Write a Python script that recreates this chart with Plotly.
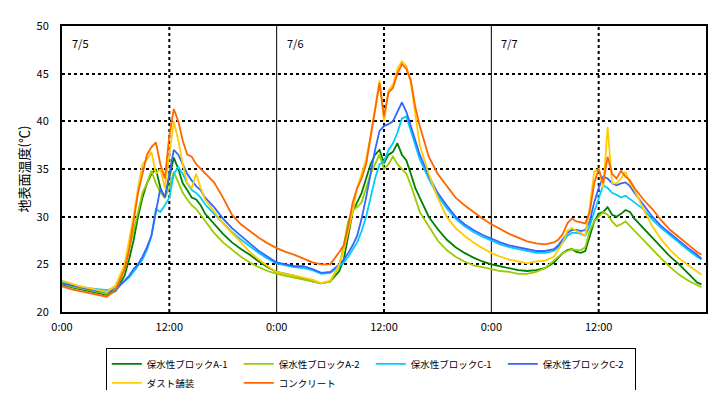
import plotly.graph_objects as go

# time in hours since 7/5 0:00
hours = ([0, 1, 2, 3, 4, 5, 6, 7]
         + [7.5, 8, 8.5, 9, 9.5, 10, 10.5, 11, 11.5, 12, 12.5, 13, 13.5, 14, 14.5, 15, 15.5, 16]
         + list(range(17, 32))
         + [31.5, 32, 32.5, 33, 33.5, 34, 34.5, 35, 35.5, 36, 36.5, 37, 37.5, 38, 38.5, 39, 39.5, 40]
         + list(range(41, 56))
         + [55.5, 56, 56.5, 57, 57.5, 58, 58.5, 59, 59.5, 60, 60.5, 61, 61.5, 62, 62.5, 63, 63.5, 64]
         + [65, 66, 67, 68, 69, 70, 71, 71.5])

concrete = ([22.7, 22.4, 22.2, 22.0, 21.8, 21.6, 22.3, 24.5]
            + [26.5, 29.5, 32.5, 34.5, 36.5, 37.3, 37.8, 35.5, 34.0, 38.5, 41.3, 40.0, 38.0, 36.5, 36.3, 35.5, 35.0, 34.5]
            + [33.6, 32.0, 30.2, 29.2, 28.5, 27.8, 27.2, 26.7, 26.3, 26.0, 25.6, 25.2, 25.0, 25.0, 26.3]
            + [27.0, 29.0, 31.5, 33.0, 34.0, 35.5, 38.5, 41.5, 44.0, 40.5, 43.0, 43.5, 45.0, 46.0, 45.5, 44.3, 41.5, 39.5]
            + [36.3, 34.5, 33.2, 32.0, 31.2, 30.5, 29.8, 29.2, 28.7, 28.2, 27.8, 27.4, 27.2, 27.1, 27.3]
            + [27.6, 28.2, 29.3, 29.8, 29.5, 29.4, 29.3, 30.5, 33.5, 35.0, 33.5, 36.3, 34.5, 34.0, 34.8, 34.2, 33.8, 33.0]
            + [31.8, 30.8, 29.6, 28.6, 27.8, 27.0, 26.3, 26.0])

dust = ([23.3, 23.0, 22.7, 22.5, 22.3, 22.1, 22.8, 25.0]
        + [27.5, 30.0, 33.0, 35.5, 36.0, 36.8, 34.5, 35.0, 33.0, 36.5, 40.0, 38.0, 35.5, 33.5, 33.0, 34.5, 33.0, 31.8]
        + [30.5, 29.3, 28.3, 27.3, 26.3, 25.5, 24.8, 24.2, 24.0, 23.8, 23.6, 23.4, 23.0, 23.3, 25.0]
        + [26.5, 28.5, 30.5, 33.0, 34.5, 36.0, 38.5, 41.5, 44.3, 40.0, 43.3, 43.8, 45.5, 46.3, 45.8, 44.0, 41.0, 37.5]
        + [34.5, 32.0, 30.0, 28.8, 28.0, 27.3, 26.7, 26.2, 25.8, 25.5, 25.3, 25.1, 25.3, 25.4, 25.8]
        + [26.5, 27.3, 28.5, 28.8, 28.5, 28.3, 28.0, 31.0, 34.7, 35.0, 33.0, 39.4, 33.5, 33.5, 34.0, 34.7, 33.5, 32.8]
        + [30.8, 29.0, 27.6, 26.5, 25.6, 24.9, 24.2, 23.9])

blockC2 = ([23.0, 22.8, 22.6, 22.4, 22.2, 22.1, 22.3, 23.3]
           + [23.8, 24.5, 25.0, 25.8, 26.8, 28.0, 30.5, 33.0, 32.0, 34.5, 37.0, 36.5, 35.5, 34.5, 33.8, 33.2, 32.8, 32.0]
           + [31.0, 29.8, 28.8, 28.0, 27.2, 26.4, 25.8, 25.2, 25.0, 24.8, 24.8, 24.5, 24.1, 24.2, 25.0]
           + [25.5, 26.2, 27.0, 28.0, 29.8, 32.0, 34.5, 37.0, 39.0, 39.5, 39.7, 40.0, 41.0, 42.0, 41.0, 39.5, 38.0, 36.5]
           + [34.3, 32.5, 31.2, 30.0, 29.2, 28.6, 28.1, 27.7, 27.3, 27.0, 26.8, 26.6, 26.4, 26.4, 26.6]
           + [27.0, 27.6, 28.3, 28.6, 28.6, 28.5, 28.6, 29.5, 31.5, 33.0, 34.2, 34.0, 33.5, 33.3, 33.5, 33.6, 33.2, 32.5]
           + [31.2, 30.0, 29.0, 28.2, 27.4, 26.7, 26.0, 25.6])

blockC1 = ([23.2, 22.9, 22.7, 22.5, 22.4, 22.3, 22.5, 23.2]
           + [23.6, 24.2, 24.8, 25.5, 26.5, 28.0, 30.8, 30.5, 31.2, 32.0, 34.5, 35.2, 34.5, 33.5, 32.8, 32.5, 32.0, 31.3]
           + [30.3, 29.3, 28.4, 27.6, 26.9, 26.2, 25.6, 25.1, 24.9, 24.7, 24.6, 24.4, 24.0, 24.1, 24.8]
           + [25.2, 25.8, 26.5, 27.3, 28.5, 30.0, 32.0, 34.0, 35.5, 35.8, 37.0, 37.7, 38.8, 40.3, 40.5, 39.0, 37.5, 36.0]
           + [34.0, 32.2, 30.9, 29.8, 29.0, 28.4, 27.9, 27.5, 27.1, 26.8, 26.6, 26.4, 26.2, 26.2, 26.4]
           + [26.8, 27.3, 28.0, 28.3, 28.3, 28.2, 28.0, 29.0, 30.5, 32.0, 33.3, 33.0, 32.5, 32.3, 32.0, 32.2, 31.8, 31.5]
           + [30.8, 29.7, 28.8, 28.0, 27.2, 26.5, 25.8, 25.5])

blockA1 = ([22.9, 22.6, 22.4, 22.2, 22.0, 21.8, 22.2, 23.8]
           + [25.5, 27.5, 30.0, 32.0, 33.5, 34.5, 35.0, 33.0, 32.0, 34.0, 36.2, 35.0, 33.5, 32.8, 32.0, 31.8, 31.2, 30.3]
           + [29.2, 28.2, 27.3, 26.6, 26.0, 25.3, 24.7, 24.2, 24.0, 23.8, 23.5, 23.2, 23.0, 23.2, 24.3]
           + [25.5, 28.0, 30.5, 31.5, 32.5, 34.0, 35.5, 36.5, 37.0, 35.6, 36.5, 36.8, 37.7, 36.5, 35.9, 34.5, 33.0, 32.0]
           + [30.0, 28.7, 27.6, 26.8, 26.2, 25.7, 25.3, 25.0, 24.8, 24.6, 24.4, 24.3, 24.4, 24.6, 25.2]
           + [25.7, 26.2, 26.5, 26.6, 26.3, 26.2, 26.4, 28.0, 29.5, 30.3, 30.5, 31.0, 30.2, 30.0, 30.3, 30.7, 30.5, 29.8]
           + [28.8, 27.9, 26.9, 25.8, 25.0, 24.0, 23.1, 22.9])

blockA2 = ([23.0, 22.7, 22.5, 22.3, 22.1, 21.9, 22.5, 24.5]
           + [26.5, 28.5, 30.5, 32.5, 33.5, 34.8, 33.5, 32.5, 32.0, 33.0, 34.7, 33.5, 32.5, 31.8, 31.2, 30.8, 30.2, 29.5]
           + [28.3, 27.3, 26.5, 25.8, 25.2, 24.7, 24.3, 24.0, 23.8, 23.6, 23.4, 23.2, 23.0, 23.2, 24.8]
           + [27.0, 29.5, 30.7, 31.0, 31.5, 33.0, 34.5, 35.5, 36.5, 35.0, 35.5, 36.3, 35.5, 35.0, 34.5, 33.3, 31.8, 30.5]
           + [29.0, 27.5, 26.5, 25.8, 25.3, 24.9, 24.7, 24.5, 24.3, 24.2, 24.0, 24.0, 24.2, 24.6, 25.4]
           + [25.8, 26.2, 26.4, 26.6, 26.5, 26.5, 26.8, 28.5, 29.5, 30.0, 30.5, 30.2, 29.5, 29.0, 29.2, 29.5, 29.0, 28.5]
           + [27.6, 26.6, 25.6, 24.7, 23.9, 23.3, 22.8, 22.6])

series_names = ["保水性ブロックA-1", "保水性ブロックA-2", "保水性ブロックC-1",
                "保水性ブロックC-2", "ダスト舗装", "コンクリート"]
series_values = [blockA1, blockA2, blockC1, blockC2, dust, concrete]
series_colors = ["#008000", "#99CC00", "#00CCFF", "#3366FF", "#FFCC00", "#FF6600"]

x_tick_vals = [0, 12, 24, 36, 48, 60]
x_tick_text = ["0:00", "12:00", "0:00", "12:00", "0:00", "12:00"]
y_tick_vals = [20, 25, 30, 35, 40, 45, 50]
day_labels = ["7/5", "7/6", "7/7"]
day_starts = [0, 24, 48]

FONT = "Noto Sans CJK JP"

fig = go.Figure()
for name, vals, col in zip(series_names, series_values, series_colors):
    fig.add_trace(go.Scatter(x=hours, y=vals, mode="lines", name=name,
                             line=dict(color=col, width=1.8)))

# vertical guide lines: solid at midnight, dotted at noon
for xv in [24, 48]:
    fig.add_shape(type="line", xref="x", yref="paper", x0=xv, x1=xv, y0=0, y1=1,
                  line=dict(color="black", width=1), layer="below")
for xv in [12, 36, 60]:
    fig.add_shape(type="line", xref="x", yref="paper", x0=xv, x1=xv, y0=0, y1=1,
                  line=dict(color="black", width=2, dash="dot"), layer="below")

for lbl, xs in zip(day_labels, day_starts):
    fig.add_annotation(x=xs + 0.9, y=0.975, xref="x", yref="paper", text=lbl,
                       showarrow=False, xanchor="left", yanchor="top",
                       font=dict(family=FONT, size=11, color="black"))

# page body has an 8px margin, so the figure is sized/positioned to compensate
fig.update_layout(
    width=705, height=382,
    margin=dict(l=54, r=7, t=18, b=78, autoexpand=False),
    paper_bgcolor="white", plot_bgcolor="white",
    font=dict(family=FONT, size=11, color="black"),
    showlegend=True,
    legend=dict(orientation="h", x=0.068, xanchor="left", y=-0.127, yanchor="top",
                bordercolor="black", borderwidth=1, bgcolor="white",
                font=dict(family=FONT, size=9.5, color="black"),
                itemwidth=30, tracegroupgap=0,
                entrywidth=87, entrywidthmode="pixels"),
    xaxis=dict(range=[0, 72], tickmode="array", tickvals=x_tick_vals, ticktext=x_tick_text,
               showgrid=False, zeroline=False, showline=True, linecolor="black", linewidth=2,
               mirror=True, ticks="", ticklabelstandoff=4,
               tickfont=dict(family=FONT, size=11)),
    yaxis=dict(range=[20, 50], tickmode="array", tickvals=y_tick_vals,
               showgrid=True, gridcolor="black", gridwidth=2, griddash="dot",
               zeroline=False, showline=True, linecolor="black", linewidth=2,
               mirror=True, ticks="", ticklabelstandoff=9,
               tickfont=dict(family=FONT, size=11),
               title=dict(text="地表面温度(℃)", standoff=4,
                          font=dict(family=FONT, size=13))),
)

fig.write_html("out.html")
